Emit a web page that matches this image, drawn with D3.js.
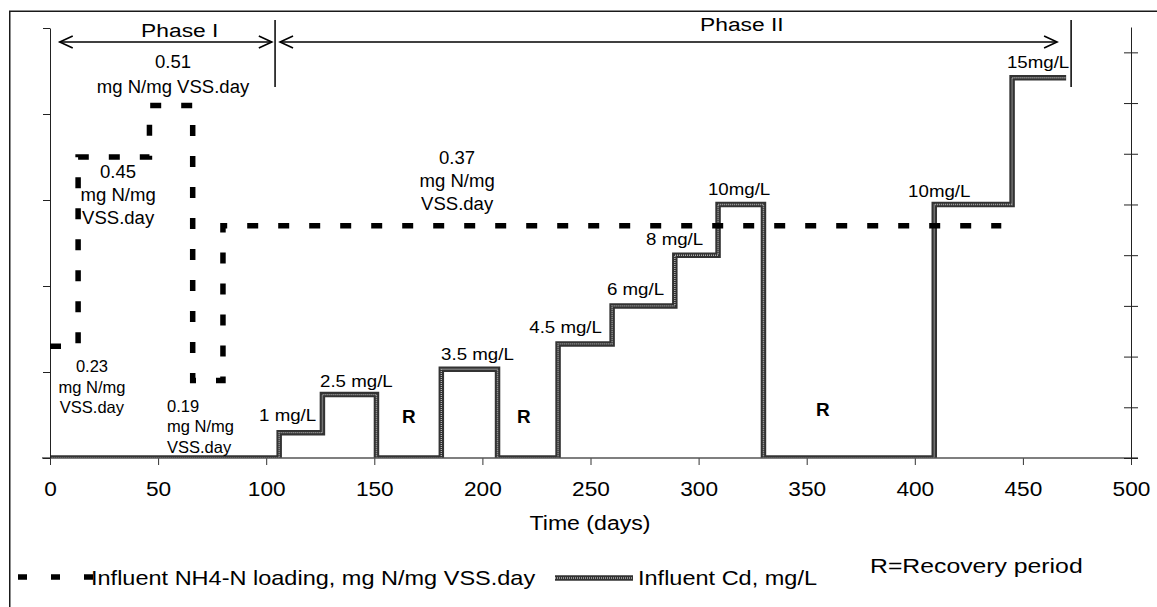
<!DOCTYPE html>
<html>
<head>
<meta charset="utf-8">
<script src="https://cdn.jsdelivr.net/npm/d3@7"></script>
<style>
  html, body { margin: 0; padding: 0; background: #fff; }
  svg { display: block; }
  text { font-family: "Liberation Sans", Arial, Helvetica, sans-serif; fill: #000; }
</style>
</head>
<body>
<svg id="chart" width="1157" height="607"></svg>
<script>
// ---------------- data ----------------
const xTicks = [0, 50, 100, 150, 200, 250, 300, 350, 400, 450, 500];
const xTickLabels = ["0", "50", "100", "150", "200", "250", "300", "350", "400", "450", "500"];
const nh4Ticks = [0.1, 0.2, 0.3, 0.4, 0.5, 0.6];
const cdTicks = [0, 2, 4, 6, 8, 10, 12, 14, 16];

// NH4-N loading (step changes): day at which each level starts, and the level
const nh4Days = [0, 13, 46, 66, 80, 440];
const nh4Levels = [0.23, 0.45, 0.51, 0.19, 0.37];

// Influent Cd (step changes)
const cdDays = [0, 106, 126, 151, 181, 207, 235, 260, 289, 309, 330, 409, 445, 470];
const cdLevels = [0, 1, 2.5, 0, 3.5, 0, 4.5, 6, 8, 10, 0, 10, 15];

// phases
const phaseNames = ["Phase I", "Phase II"];
const phaseArrowStart = [4.5, 106.4];
const phaseArrowEnd = [102.6, 465.8];
const phaseLabelDay = [60, 320];
const phaseBoundaries = [104.1, 472.3];

// NH4 annotations: day, value (left axis) of the first baseline, text lines
const nh4NoteDays = [56.9, 31.5, 188.3, 19.4, 54.1];
const nh4NoteVals = [0.5535, 0.4256, 0.4419, 0.2, 0.1535];
const nh4NoteLines = [
  ["0.51", "mg N/mg VSS.day"],
  ["0.45", "mg N/mg", "VSS.day"],
  ["0.37", "mg N/mg", "VSS.day"],
  ["0.23", "mg N/mg", "VSS.day"],
  ["0.19", "mg N/mg", "VSS.day"]
];

// Cd annotations
const cdNoteText = ["1 mg/L", "2.5 mg/L", "3.5 mg/L", "4.5 mg/L", "6 mg/L", "8 mg/L", "10mg/L", "10mg/L", "15mg/L"];
const cdNoteDays = [96.7, 124.9, 180.9, 255.3, 257.6, 275.7, 304.3, 396.9, 442.6];
const cdNoteVals = [1.46, 2.80, 3.87, 4.93, 6.43, 8.40, 10.37, 10.29, 15.38];
const recoveryDays = [166, 219.2, 357.5];
const recoveryVals = [1.38, 1.38, 1.66];

const legendNH4 = "Influent NH4-N loading, mg N/mg VSS.day";
const legendCd = "Influent Cd, mg/L";
const legendR = "R=Recovery period";
const xTitle = "Time (days)";

// ---------------- chart ----------------
const svg = d3.select("#chart");
const FONT = '"Liberation Sans", Arial, Helvetica, sans-serif';

const x = d3.scaleLinear().domain([0, 500]).range([50, 1131]);
const yN = d3.scaleLinear().domain([0.1, 0.6]).range([458, 28]);
const yCd = d3.scaleLinear().domain([0, 17]).range([458, 27]);
const baseY = yN(0.1);

function txt(g, px, py, s, size, anchor, sx, weight) {
  return g.append("text")
    .attr("transform", `translate(${px},${py}) scale(${sx || 1},1)`)
    .attr("text-anchor", anchor || "start")
    .attr("font-size", size)
    .attr("font-weight", weight || "normal")
    .text(s);
}

// outer frame
svg.append("path")
  .attr("d", "M9.75,607 V11.25 H1157")
  .attr("fill", "none").attr("stroke", "#1a1a1a").attr("stroke-width", 1.5);

// clip for lines (upper half of baseline only)
svg.append("defs").append("clipPath").attr("id", "plotClip")
  .append("rect").attr("x", 0).attr("y", 0).attr("width", 1157).attr("height", baseY);

// Cd line style (dark textured band)
function cdStroke(sel) {
  sel.append("path").attr("class", "cd-outer")
    .attr("fill", "none").attr("stroke", "#333").attr("stroke-width", 5.5)
    .attr("stroke-linejoin", "miter").attr("stroke-linecap", "butt");
  sel.append("path").attr("class", "cd-inner")
    .attr("fill", "none").attr("stroke", "#b5b5b5").attr("stroke-width", 1.4)
    .attr("stroke-dasharray", "1,1")
    .attr("stroke-linejoin", "miter").attr("stroke-linecap", "butt");
}

// ---- Cd line ----
const cdPts = cdLevels.map((v, i) => [cdDays[i], v]);
cdPts.push([cdDays[cdDays.length - 1], cdLevels[cdLevels.length - 1]]);
const cdLine = d3.line().x(d => x(d[0])).y(d => yCd(d[1])).curve(d3.curveStepAfter);
const cdG = svg.append("g").attr("clip-path", "url(#plotClip)");
cdStroke(cdG);
cdG.selectAll("path").attr("d", cdLine(cdPts));

// ---- axes ----
// bottom axis
const xAxis = d3.axisBottom(x).tickValues(xTicks)
  .tickFormat((d, i) => xTickLabels[i]).tickSize(7).tickSizeOuter(0).tickPadding(10);
const gx = svg.append("g").attr("transform", `translate(0,${baseY})`).call(xAxis);
gx.select(".domain").remove();
gx.selectAll(".tick line").attr("stroke", "#333").attr("stroke-width", 1);
gx.selectAll(".tick text")
  .attr("font-family", FONT).attr("font-size", 21).attr("fill", "#000")
  .attr("y", 0).attr("dy", 0)
  .attr("transform", "translate(0,38) scale(1.08,1)");
svg.append("line").attr("x1", 42).attr("x2", 1138).attr("y1", baseY).attr("y2", baseY)
  .attr("stroke", "#555").attr("stroke-width", 1.5);

// left axis
const yAxisL = d3.axisLeft(yN).tickValues(nh4Ticks).tickFormat("").tickSize(7).tickSizeOuter(0);
const gl = svg.append("g").attr("transform", "translate(50,0)").call(yAxisL);
gl.select(".domain").attr("stroke", "#222");
gl.selectAll(".tick line").attr("stroke", "#222");

// right axis
const yAxisR = d3.axisRight(yCd).tickValues(cdTicks).tickFormat("").tickSize(7).tickSizeOuter(0);
const gr = svg.append("g").attr("transform", "translate(1131,0)").call(yAxisR);
gr.select(".domain").attr("stroke", "#222");
gr.selectAll(".tick line").attr("x1", -7).attr("stroke", "#222");

// ---- NH4 dashed line ----
const nhPts = nh4Levels.map((v, i) => [nh4Days[i], v]);
nhPts.push([nh4Days[nh4Days.length - 1], nh4Levels[nh4Levels.length - 1]]);
const nhLine = d3.line().x(d => x(d[0])).y(d => yN(d[1])).curve(d3.curveStepAfter);
svg.append("path").attr("d", nhLine(nhPts))
  .attr("fill", "none").attr("stroke", "#000").attr("stroke-width", 5.5)
  .attr("stroke-dasharray", "11,20").attr("stroke-linecap", "butt");

// ---- phase arrows ----
const ph = svg.append("g");
const arrowY = 42;
function arrowHead(px, dir) {
  ph.append("path")
    .attr("d", `M${px + dir * 13},${arrowY - 6} L${px},${arrowY} L${px + dir * 13},${arrowY + 6}`)
    .attr("fill", "none").attr("stroke", "#000").attr("stroke-width", 1.6);
}
phaseNames.forEach((name, i) => {
  const a = x(phaseArrowStart[i]), b = x(phaseArrowEnd[i]);
  ph.append("line").attr("x1", a).attr("x2", b).attr("y1", arrowY).attr("y2", arrowY)
    .attr("stroke", "#000").attr("stroke-width", 1.6);
  arrowHead(a, 1);
  arrowHead(b, -1);
  txt(ph, x(phaseLabelDay[i]), i === 0 ? 37 : 31, name, 19, "middle", 1.2);
});
phaseBoundaries.forEach(d => {
  ph.append("line").attr("x1", x(d)).attr("x2", x(d)).attr("y1", 20).attr("y2", 87)
    .attr("stroke", "#000").attr("stroke-width", 1.5);
});

// ---- NH4 annotations ----
const notes = svg.append("g");
nh4NoteLines.forEach((lines, i) => {
  const small = i >= 3;
  const size = small ? 16.5 : 18;
  const spacing = i === 0 ? 25 : (small ? 20.5 : 23);
  const anchor = i === 4 ? "start" : "middle";
  lines.forEach((s, j) => {
    txt(notes, x(nh4NoteDays[i]), yN(nh4NoteVals[i]) + j * spacing, s, size, anchor, small ? 1 : 1.03);
  });
});

// ---- Cd annotations ----
cdNoteText.forEach((s, i) => {
  const anchor = i === 3 ? "end" : "start";
  txt(notes, x(cdNoteDays[i]), yCd(cdNoteVals[i]), s, 17, anchor, 1.1);
});
recoveryDays.forEach((d, i) => {
  txt(notes, x(d), yCd(recoveryVals[i]), "R", 18, "middle", 1.05, "bold");
});

// ---- axis title ----
txt(svg, 590, 530, xTitle, 21, "middle", 1.1);

// ---- legend ----
const lg = svg.append("g");
lg.append("line").attr("x1", 18).attr("x2", 93).attr("y1", 577).attr("y2", 577)
  .attr("stroke", "#000").attr("stroke-width", 5.5).attr("stroke-dasharray", "9,24");
txt(lg, 91, 585, legendNH4, 21, "start", 1.12);
const lgCd = lg.append("g");
cdStroke(lgCd);
lgCd.selectAll("path").attr("d", "M555,578 H633");
txt(lg, 638, 585, legendCd, 21, "start", 1.12);
txt(lg, 870, 573, legendR, 21, "start", 1.18);
</script>
</body>
</html>
